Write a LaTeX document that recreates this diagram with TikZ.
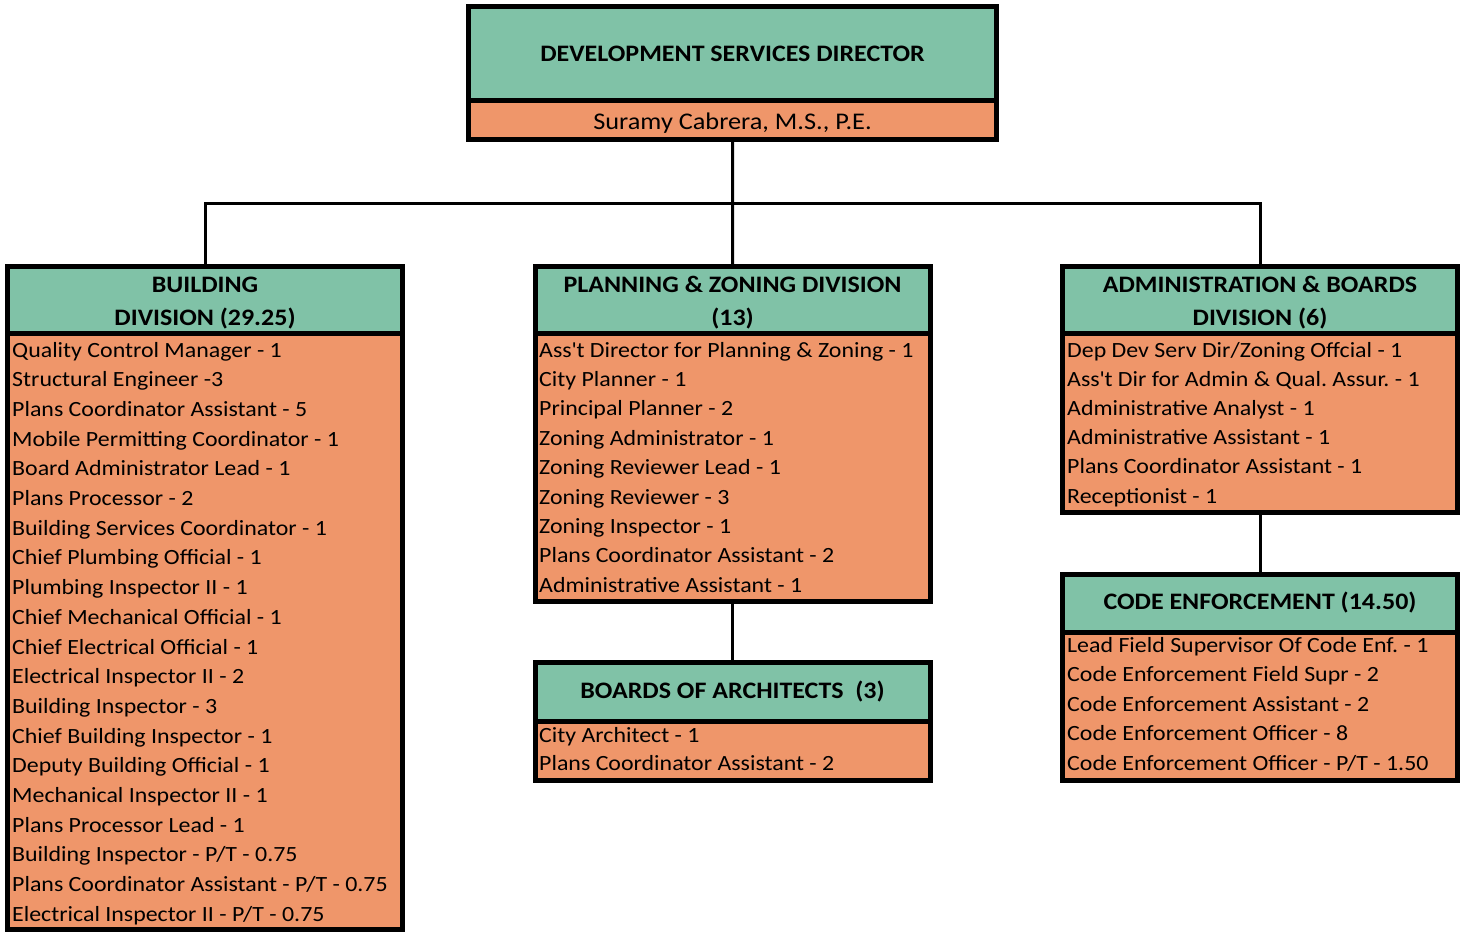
\documentclass[tikz,border=0pt]{standalone}
\usepackage{fontspec}
\setmainfont{Carlito}[FakeStretch=1.1]
\usepackage{tikz}
\usetikzlibrary{positioning}
\frenchspacing

\definecolor{headgreen}{RGB}{128,194,167}
\definecolor{listorange}{RGB}{239,150,106}

\begin{document}
\begin{tikzpicture}[
  x=1bp, y=-1bp,
  every node/.style={font=\fontsize{21.8}{29.6}\selectfont},
  head/.style={
    rectangle, draw=black, line width=5bp, fill=headgreen,
    minimum width=395bp, inner sep=0pt, outer sep=0pt, align=center,
    font=\fontsize{23.7}{33.4}\selectfont\bfseries,
  },
  twoline/.style={execute at begin node={\rule{0pt}{55bp}}},
  body/.style={
    rectangle, draw=black, line width=5bp, fill=listorange,
    minimum width=395bp, inner sep=0pt, outer sep=0pt, anchor=north west,
  },
  item/.style={anchor=base west, inner sep=0pt},
  link/.style={draw=black, line width=3bp},
]
  \useasboundingbox (0,0) rectangle (1464,932);

  % director on top
  \node[head, minimum width=528bp, minimum height=94bp, anchor=north west] (dir) at (468.5,6.5)
    {DEVELOPMENT SERVICES DIRECTOR};
  \node[body, minimum width=528bp, minimum height=39bp] (dirname) at (dir.south west) {};
  \node[anchor=base, inner sep=0pt, font=\fontsize{24}{30}\selectfont] (dirwho) at (732.5,129)
    {Suramy Cabrera, M.S., P.E.};

  % the three divisions
  \node[head, twoline, minimum height=67bp, anchor=north west] (bldhead) at (7.5,266.5)
    {BUILDING\\DIVISION (29.25)};
  \node[body, minimum height=596bp] (bldbody) at (bldhead.south west) {};

  \node[head, twoline, minimum height=67bp, anchor=north west] (plzhead) at (535,266.5)
    {PLANNING \& ZONING DIVISION\\(13)};
  \node[body, minimum height=268bp] (plzbody) at (plzhead.south west) {};

  \node[head, twoline, minimum height=67bp, anchor=north west] (admhead) at (1062.5,266.5)
    {ADMINISTRATION \& BOARDS\\DIVISION (6)};
  \node[body, minimum height=179bp] (admbody) at (admhead.south west) {};

  % units under planning and administration
  \node[head, minimum height=59bp, anchor=north west] (boahead) at (535,662)
    {BOARDS OF ARCHITECTS~~(3)};
  \node[body, minimum height=59bp] (boabody) at (boahead.south west) {};

  \node[head, minimum height=58bp, anchor=north west] (cehead) at (1062.5,574)
    {CODE ENFORCEMENT (14.50)};
  \node[body, minimum height=148bp] (cebody) at (cehead.south west) {};

  % staff lists
  \foreach \job [count=\i from 0] in {
      {Quality Control Manager - 1}, {Structural Engineer -3},
      {Plans Coordinator Assistant - 5}, {Mobile Permitting Coordinator - 1},
      {Board Administrator Lead - 1}, {Plans Processor - 2},
      {Building Services Coordinator - 1}, {Chief Plumbing Official - 1},
      {Plumbing Inspector II - 1}, {Chief Mechanical Official - 1},
      {Chief Electrical Official - 1}, {Electrical Inspector II - 2},
      {Building Inspector - 3}, {Chief Building Inspector - 1},
      {Deputy Building Official - 1}, {Mechanical Inspector II - 1},
      {Plans Processor Lead - 1}, {Building Inspector - P/T - 0.75},
      {Plans Coordinator Assistant - P/T - 0.75},
      {Electrical Inspector II - P/T - 0.75}}
    \node[item] (bld-\i) at (12, 357+29.7*\i) {\job};

  \foreach \job [count=\i from 0] in {
      {Ass\textquotesingle t Director for Planning \& Zoning - 1}, {City Planner - 1},
      {Principal Planner - 2}, {Zoning Administrator - 1},
      {Zoning Reviewer Lead - 1}, {Zoning Reviewer - 3},
      {Zoning Inspector - 1}, {Plans Coordinator Assistant - 2},
      {Administrative Assistant - 1}}
    \node[item] (plz-\i) at (539, 357+29.4*\i) {\job};

  \foreach \job [count=\i from 0] in {
      {City Architect - 1}, {Plans Coordinator Assistant - 2}}
    \node[item] (boa-\i) at (539, 742+28.3*\i) {\job};

  \foreach \job [count=\i from 0] in {
      {Dep Dev Serv Dir/Zoning Offcial - 1},
      {Ass\textquotesingle t Dir for Admin \& Qual. Assur. - 1},
      {Administrative Analyst - 1}, {Administrative Assistant - 1},
      {Plans Coordinator Assistant - 1}, {Receptionist - 1}}
    \node[item] (adm-\i) at (1067, 357+29.2*\i) {\job};

  \foreach \job [count=\i from 0] in {
      {Lead Field Supervisor Of Code Enf. - 1},
      {Code Enforcement Field Supr - 2}, {Code Enforcement Assistant - 2},
      {Code Enforcement Officer - 8}, {Code Enforcement Officer - P/T - 1.50}}
    \node[item] (ce-\i) at (1067, 652+29.6*\i) {\job};

  % reporting lines
  \coordinate (bus) at (732.5,203);
  \draw[link] (dirname.south) -- (plzhead.north);
  \draw[link] (bldhead.north) |- (bus) -| (admhead.north);
  \draw[link] (plzbody.south) -- (boahead.north);
  \draw[link] (admbody.south) -- (cehead.north);
\end{tikzpicture}
\end{document}
